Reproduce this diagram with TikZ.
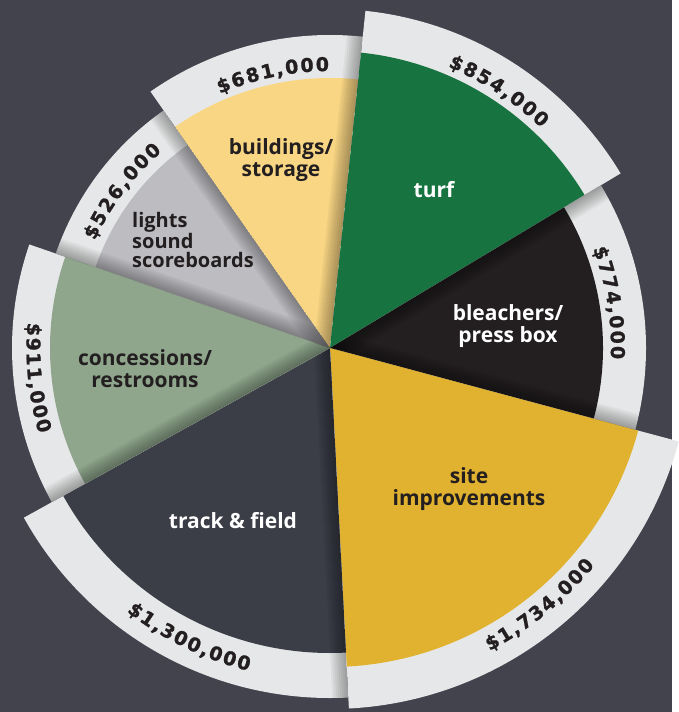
\documentclass[tikz,border=0pt]{standalone}
\usepackage{fontspec}
\setmainfont{Open Sans}
\newfontfamily\amtfont[BoldFeatures={FakeBold=1.2}]{DejaVu Sans}
\usepackage{tikz}
\usetikzlibrary{decorations.text}

\definecolor{bgcol}{HTML}{42434D}
\definecolor{bandgray}{HTML}{E6E7E8}
\definecolor{inkdark}{HTML}{231F20}
\definecolor{lightsgray}{HTML}{BDBCC0}
\definecolor{buildyellow}{HTML}{F9D684}
\definecolor{turfgreen}{HTML}{177340}
\definecolor{bleachblack}{HTML}{231F20}
\definecolor{sitegold}{HTML}{E0B22F}
\definecolor{trackgray}{HTML}{3B3D47}
\definecolor{concsage}{HTML}{8FA68C}

\begin{document}
\begin{tikzpicture}[x=1pt, y=1pt,
            catlabel/.style={font=\fontsize{21}{22}\selectfont\bfseries, align=center, text=inkdark, inner sep=0pt},
            catlight/.style={catlabel, text=white},
            amount/.style={decorate, decoration={text effects along path, text={#1}, text align=center,
                text effects/.cd, text along path,
                characters={font=\amtfont\bfseries\fontsize{19}{19}\selectfont, text=inkdark, inner xsep=0.9pt},
                character widths={font=\amtfont\bfseries\fontsize{19}{19}\selectfont, inner xsep=0.9pt}}},
            shadowstrip/.style={fill=black, fill opacity=0.045}
        ]

% Background
            \fill[bgcol] (-330,-364) rectangle (342,348);

% Wedges: band first, then the coloured part
            \fill[bandgray] (0,0) -- (125:290) arc[start angle=125, end angle=161, radius=290] -- cycle;
            \fill[lightsgray] (0,0) -- (125:248) arc[start angle=125, end angle=161, radius=248] -- cycle;

            \fill[bandgray] (0,0) -- (84:313) arc[start angle=84, end angle=125, radius=313] -- cycle;
            \fill[buildyellow] (0,0) -- (84:270) arc[start angle=84, end angle=125, radius=270] -- cycle;

            \fill[bandgray] (0,0) -- (31:339) arc[start angle=31, end angle=84, radius=339] -- cycle;
            \fill[turfgreen] (0,0) -- (31:297) arc[start angle=31, end angle=84, radius=297] -- cycle;

            \fill[bandgray] (0,0) -- (-15:316) arc[start angle=-15, end angle=31, radius=316] -- cycle;
            \fill[bleachblack] (0,0) -- (-15:273) arc[start angle=-15, end angle=31, radius=273] -- cycle;

            \fill[bandgray] (0,0) -- (-87:361) arc[start angle=-87, end angle=-15, radius=361] -- cycle;
            \fill[sitegold] (0,0) -- (-87:319) arc[start angle=-87, end angle=-15, radius=319] -- cycle;

            \fill[bandgray] (0,0) -- (-151:350) arc[start angle=-151, end angle=-87, radius=350] -- cycle;
            \fill[trackgray] (0,0) -- (-151:305) arc[start angle=-151, end angle=-87, radius=305] -- cycle;

            \fill[bandgray] (0,0) -- (161:318) arc[start angle=161, end angle=209, radius=318] -- cycle;
            \fill[concsage] (0,0) -- (161:280) arc[start angle=161, end angle=209, radius=280] -- cycle;

% Shadows cast across the wedge edges
            \begin{scope}
                \clip (0,0) -- (84:313) arc[start angle=84, end angle=125, radius=313] -- cycle;
                \foreach \w in {2,4,...,16} \fill[shadowstrip, rotate=84] (0,0) rectangle (400,\w);
            \end{scope}
            \begin{scope}
                \clip (0,0) -- (-15:316) arc[start angle=-15, end angle=31, radius=316] -- cycle;
                \foreach \w in {2,4,...,16} \fill[shadowstrip, rotate=31] (0,-\w) rectangle (400,0);
                \foreach \w in {2,4,...,16} \fill[shadowstrip, rotate=-15] (0,0) rectangle (400,\w);
            \end{scope}
            \begin{scope}
                \clip (0,0) -- (-151:350) arc[start angle=-151, end angle=-87, radius=350] -- cycle;
                \foreach \w in {2,4,...,16} \fill[shadowstrip, rotate=-87] (0,-\w) rectangle (400,0);
            \end{scope}
            \begin{scope}
                \clip (0,0) -- (161:318) arc[start angle=161, end angle=209, radius=318] -- cycle;
                \foreach \w in {2,4,...,16} \fill[shadowstrip, rotate=209] (0,-\w) rectangle (400,0);
            \end{scope}
            \begin{scope}
                \clip (0,0) -- (125:290) arc[start angle=125, end angle=161, radius=290] -- cycle;
                \foreach \w in {2,4,...,16} \fill[shadowstrip, rotate=161] (0,-\w) rectangle (400,0);
                \foreach \w in {2,4,...,16} \fill[shadowstrip, rotate=125] (0,0) rectangle (400,\w);
            \end{scope}

% Category labels
            \node[catlabel] (buildings) at (-49,188) {buildings/\\storage};
            \node[catlabel, align=left, anchor=west, font=\fontsize{20}{18.5}\selectfont\bfseries] (lights) at (-198,108) {lights\\sound\\scoreboards};
            \node[catlight] (turf) at (104,158) {turf};
            \node[catlight] (bleachers) at (178,22) {bleachers/\\press box};
            \node[catlabel] (concessions) at (-185,-21) {concessions/\\restrooms};
            \node[catlight] (track) at (-97,-173) {track \& field};
            \node[catlabel] (site) at (139,-141) {site\\improvements};

% Amounts along the bands
            \path[amount={{\$}681,000}] (126.8:277) arc[start angle=126.8, end angle=76.8, radius=277];
            \path[amount={{\$}854,000}] (81.7:305) arc[start angle=81.7, end angle=31.7, radius=305];
            \path[amount={{\$}526,000}] (168:258.5) arc[start angle=168, end angle=118, radius=258.5];
            \path[amount={{\$}774,000}] (34.2:281) arc[start angle=34.2, end angle=-15.8, radius=281];
            \path[amount={{\$}911,000}] (160.8:303.5) arc[start angle=160.8, end angle=210.8, radius=303.5];
            \path[amount={{\$}1,734,000}] (-75.8:342.5) arc[start angle=-75.8, end angle=-25.8, radius=342.5];
            \path[amount={{\$}1,300,000}] (-140.9:333) arc[start angle=-140.9, end angle=-90.9, radius=333];

        \end{tikzpicture}
\end{document}
